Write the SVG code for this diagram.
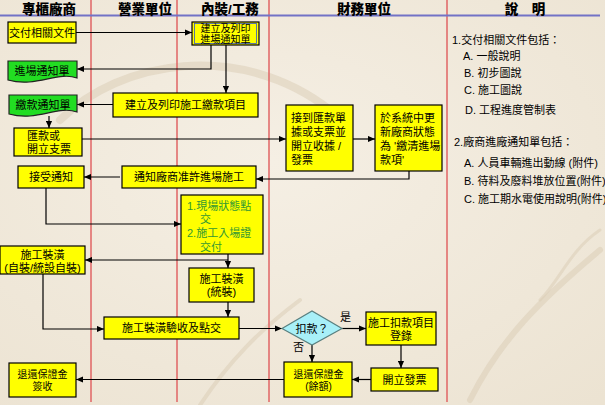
<svg xmlns="http://www.w3.org/2000/svg" width="605" height="405" viewBox="0 0 605 405">
<defs>
<radialGradient id="bg" cx="0.45" cy="0.4" r="0.8">
<stop offset="0" stop-color="#f5efe4"/>
<stop offset="1" stop-color="#ece3d2"/>
</radialGradient>
<marker id="ah" viewBox="0 0 8 8" refX="8" refY="4" markerWidth="7" markerHeight="7" markerUnits="userSpaceOnUse" orient="auto">
<path d="M0,0.5 L8,4 L0,7.5 Z" fill="#000"/>
</marker>
<style>
.box{fill:#ffff00;stroke:#000;stroke-width:1.2}
.doc{fill:#22dd22;stroke:#222;stroke-width:1.2}
.dia{fill:#a8f0f8;stroke:#5a8080;stroke-width:1.2}
.t{font-family:"Liberation Sans","Noto Sans CJK TC","Noto Sans CJK SC",sans-serif;font-size:11px;fill:#000}
.s{font-size:10px}
.c{text-anchor:middle}
.g{fill:#339933}
.h{font-family:"Liberation Sans","Noto Sans CJK TC","Noto Sans CJK SC",sans-serif;font-size:13.5px;font-weight:900;fill:#000;text-anchor:middle}
.lane{stroke:#e06464;stroke-width:1.5}
.con path{fill:none;stroke:#000;stroke-width:1.2;marker-end:url(#ah)}
.deco{fill:none;stroke:#d9ccb3;stroke-linecap:round;opacity:0.5}
</style>
</defs>
<rect x="0" y="0" width="605" height="405" fill="url(#bg)"/>
<g id="background-texture">
<path class="deco" stroke-width="6" d="M470,400 C500,340 540,300 600,250"/>
<path class="deco" stroke-width="3" d="M540,300 C560,280 570,250 600,230"/>
<path class="deco" stroke-width="4" d="M200,405 C230,360 260,330 300,300"/>
<path class="deco" stroke-width="8" d="M60,120 C120,60 240,40 330,110"/>
</g>
<g id="lanes">
<line class="lane" x1="91" y1="0" x2="91" y2="402"/>
<line class="lane" x1="177" y1="0" x2="177" y2="402"/>
<line class="lane" x1="269" y1="0" x2="269" y2="402"/>
<line class="lane" x1="447" y1="0" x2="447" y2="402"/>
<line x1="0" y1="15.5" x2="600" y2="15.5" stroke="#7272c6" stroke-width="2"/>
<text class="h" x="49" y="14">專櫃廠商</text>
<text class="h" x="145" y="14">營業單位</text>
<text class="h" x="230" y="14">內裝/工務</text>
<text class="h" x="364" y="14">財務單位</text>
<text class="h" x="525" y="14">說　明</text>
</g>
<g class="con" id="connectors">
<path d="M76,32.5 H192"/>
<path d="M211,45 V69 H77"/>
<path d="M226,45 V93"/>
<path d="M113,104.5 H77"/>
<path d="M49,116 V128"/>
<path d="M82,139 H286"/>
<path d="M353,139 H375"/>
<path d="M409,171 V179 H256"/>
<path d="M120,177 H84"/>
<path d="M46,188 V224 H181"/>
<path d="M228,254 V268"/>
<path d="M228,260 H85"/>
<path d="M43,274 V329 H104"/>
<path d="M228,302 V317"/>
<path d="M239,328.5 H282"/>
<path d="M342,328.5 H366"/>
<path d="M312,345 V362"/>
<path d="M401,345 V368"/>
<path d="M371,379.5 H352"/>
<path d="M284,379.5 H76"/>
</g>
<g id="n1"><rect class="box" x="8" y="22" width="68" height="21"/><text class="t c" x="42" y="36.5">交付相關文件</text></g>
<g id="n2"><rect class="box" x="192" y="22" width="67" height="23"/><rect x="194.5" y="23.5" width="62" height="20" fill="none" stroke="#3355cc" stroke-width="0.8"/><text class="t s c" x="225.5" y="31.5">建立及列印<tspan x="225.5" dy="11.2">進場通知單</tspan></text></g>
<g id="n3"><path class="doc" d="M8,61 H77 V78 C58,71 36,88 8,80 Z"/><text class="t c" x="42" y="75">進場通知單</text></g>
<g id="n4"><path class="doc" d="M9,95 H77 V112 C58,105 37,122 9,114 Z"/><text class="t c" x="43" y="109">繳款通知單</text></g>
<g id="n5"><rect class="box" x="113" y="93" width="145" height="24"/><text class="t c" x="185.5" y="109">建立及列印施工繳款項目</text></g>
<g id="n6"><rect class="box" x="14" y="128" width="68" height="28"/><text class="t" x="27" y="139.5">匯款或<tspan x="27" dy="13">開立支票</tspan></text></g>
<g id="n7"><rect class="box" x="286" y="105" width="67" height="66"/><text class="t" x="291" y="122">接到匯款單<tspan x="291" dy="14">據或支票並</tspan><tspan x="291" dy="14">開立收據 /</tspan><tspan x="291" dy="14">發票</tspan></text></g>
<g id="n8"><rect class="box" x="375" y="105" width="67" height="66"/><text class="t" x="380" y="122">於系統中更<tspan x="380" dy="14">新廠商狀態</tspan><tspan x="380" dy="14">為 '繳清進場</tspan><tspan x="380" dy="14">款項'</tspan></text></g>
<g id="n9"><rect class="box" x="122" y="166" width="134" height="22"/><text class="t c" x="189" y="181">通知廠商准許進場施工</text></g>
<g id="n10"><rect class="box" x="18" y="166" width="66" height="22"/><text class="t c" x="51" y="181">接受通知</text></g>
<g id="n11"><rect class="box" x="181" y="195" width="82" height="59"/><text class="t g" x="187" y="210">1.現場狀態點<tspan x="200" dy="13">交</tspan><tspan x="187" dy="14">2.施工入場證</tspan><tspan x="200" dy="13.5">交付</tspan></text></g>
<g id="n12"><rect class="box" x="0" y="246" width="85" height="28"/><text class="t c" x="42.5" y="258.5">施工裝潢<tspan x="42.5" dy="13">(自裝/統設自裝)</tspan></text></g>
<g id="n13"><rect class="box" x="189" y="268" width="65" height="34"/><text class="t c" x="221.5" y="283">施工裝潢<tspan x="221.5" dy="13">(統裝)</tspan></text></g>
<g id="n14"><rect class="box" x="104" y="317" width="135" height="22"/><text class="t c" x="171.5" y="332">施工裝潢驗收及點交</text></g>
<g id="n15"><path class="dia" d="M282,328.5 L312,311 L342,328.5 L312,345 Z"/><text class="t c" x="312" y="333">扣款？</text><text class="t" x="340" y="321">是</text><text class="t" x="293" y="351">否</text></g>
<g id="n16"><rect class="box" x="366" y="312" width="70" height="33"/><text class="t c" x="401" y="326.5">施工扣款項目<tspan x="401" dy="13">登錄</tspan></text></g>
<g id="n17"><rect class="box" x="371" y="368" width="67" height="23"/><text class="t c" x="404.5" y="383.5">開立發票</text></g>
<g id="n18"><rect class="box" x="284" y="362" width="68" height="35"/><text class="t s c" x="318.5" y="377.5">退還保證金<tspan x="318.5" dy="12.5">(餘額)</tspan></text></g>
<g id="n19"><rect class="box" x="9" y="363" width="67" height="34"/><text class="t s c" x="42.5" y="377.5">退還保證金<tspan x="42.5" dy="12.5">簽收</tspan></text></g>
<g id="notes">
<text class="t" x="452" y="43.5">1.交付相關文件包括：</text>
<text class="t" x="463" y="60">A. 一般說明</text>
<text class="t" x="464" y="77">B. 初步圖說</text>
<text class="t" x="464" y="94">C. 施工圖說</text>
<text class="t" x="465" y="114">D. 工程進度管制表</text>
<text class="t" x="454" y="146">2.廠商進廠通知單包括：</text>
<text class="t" x="464" y="167">A. 人員車輛進出動線 (附件)</text>
<text class="t" x="464" y="185">B. 待料及廢料堆放位置(附件)</text>
<text class="t" x="464" y="203">C. 施工期水電使用說明(附件)</text>
</g>
</svg>
